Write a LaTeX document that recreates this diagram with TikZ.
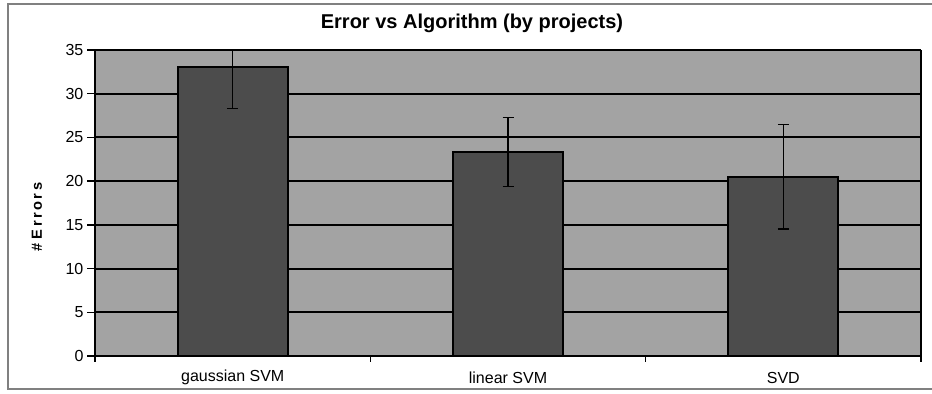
\documentclass[tikz,border=0pt]{standalone}
\usepackage{fontspec}
\setmainfont{Liberation Sans}
\usetikzlibrary{positioning}
\definecolor{plotgray}{gray}{0.64}
\definecolor{bargray}{gray}{0.3}

\begin{document}
\begin{tikzpicture}[x=0.75pt,y=0.75pt,
  bar/.style={draw=black, line width=1.4pt, fill=bargray},
  gridline/.style={line width=1.5pt},
  errbar/.style={line width=1.1pt},
  ticklabel/.style={font=\fontsize{12}{14}\selectfont, anchor=east, inner sep=1pt},
  catlabel/.style={font=\fontsize{12}{14}\selectfont, inner sep=1pt},
  titlelabel/.style={font=\bfseries\fontsize{15}{18}\selectfont}
]
\useasboundingbox (0,0) rectangle (932,393);
% frame round the chart
\draw[gray, line width=1pt] (932,389) -- (8,389) -- (8,4) -- (932,4);

\node[titlelabel] (title) at (472,370) {Error vs Algorithm (by projects)};
\node[font=\bfseries\fontsize{11}{14}\selectfont, rotate=90] (ylabel) at (37,176) {\# E\,r\,r\,o\,r\,s};

% plot area, y in errors
\begin{scope}[shift={(95,37)}, yscale=8.743]
  \fill[plotgray] (0,0) rectangle (826,35);
  \foreach \v in {5,10,...,35}
    \draw[gridline] (0,\v) -- (826,\v);
  \draw[line width=1pt] (826,0) -- (826,35);

  % bars
  \foreach \c/\h in {137.7/33.1, 413/23.3, 688.3/20.5}
    \draw[bar] (\c-55,0) rectangle (\c+55,\h);

  % error bars
  \draw[errbar] (137.7,28.3) -- (137.7,35);
  \draw[errbar] (132.2,28.3) -- (143.2,28.3);
  \foreach \c/\lo/\hi in {413/19.4/27.3, 688.3/14.5/26.5} {
    \draw[errbar] (\c,\lo) -- (\c,\hi);
    \draw[errbar] (\c-5.5,\lo) -- (\c+5.5,\lo);
    \draw[errbar] (\c-5.5,\hi) -- (\c+5.5,\hi);
  }

  % axes
  \draw[line width=1.5pt] (0,0) -- (826,0);
  \draw[line width=1.5pt] (0,0) -- (0,35);
  \foreach \v in {0,5,...,35} {
    \draw[line width=1pt] (-8,\v) -- (0,\v);
    \node[ticklabel] (ytick\v) at (-10,\v) {\v};
  }
  \foreach \x in {0,275.3,550.7,826}
    \draw[line width=1pt] (\x,0) -- (\x,-0.7);

  \node[catlabel] (cat1) at (137.7,-2.5) {gaussian SVM};
  \node[catlabel] (cat2) at (413,-2.5) {linear SVM};
  \node[catlabel] (cat3) at (688.3,-2.5) {SVD};
\end{scope}
\end{tikzpicture}
\end{document}
